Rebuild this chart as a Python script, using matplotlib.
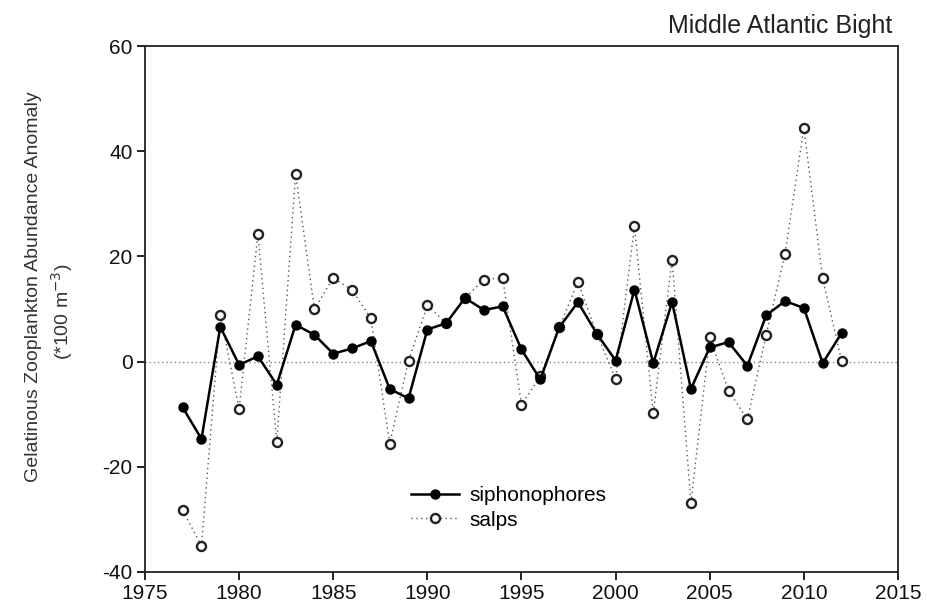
import matplotlib
matplotlib.use("Agg")
import matplotlib.pyplot as plt

plt.rcParams['font.family'] = ['Liberation Sans', 'DejaVu Sans']
plt.rcParams['axes.unicode_minus'] = False

# anios y anomalias
anios = list(range(1977, 2013))
sifonoforos = [-8.7, -14.7, 6.6, -0.6, 1.0, -4.4, 7.0, 5.1, 1.5, 2.5,
               3.9, -5.2, -7.0, 6.1, 7.3, 12.1, 9.8, 10.5, 2.3, -3.4,
               6.5, 11.3, 5.3, 0.2, 13.7, -0.3, 11.3, -5.2, 2.7, 3.7,
               -0.8, 8.8, 11.5, 10.2, -0.3, 5.4]
salpas = [-28.3, -35.0, 8.9, -9.0, 24.3, -15.3, 35.7, 10.0, 15.9, 13.6,
          8.2, -15.6, 0.2, 10.7, 7.3, 12.1, 15.6, 15.9, -8.2, -2.8,
          6.5, 15.1, 5.3, -3.3, 25.7, -9.8, 19.4, -26.9, 4.6, -5.5,
          -11.0, 5.1, 20.5, 44.4, 15.8, 0.2]

xticks = [1975, 1980, 1985, 1990, 1995, 2000, 2005, 2010, 2015]
yticks = [-40, -20, 0, 20, 40, 60]

fig = plt.figure(figsize=(9.27, 6.12), dpi=100)
ax = fig.add_axes([0.1564, 0.0654, 0.8123, 0.8594])

# linea del cero
ax.axhline(0, color='#888888', linestyle=(0, (1, 2)), linewidth=1.0, zorder=1)

ax.plot(anios, salpas, linestyle=(0, (1, 2.5)), color='#555555', linewidth=1.0,
        marker='o', markersize=6.5, markerfacecolor='white',
        markeredgecolor='#222222', markeredgewidth=1.7, label='salps', zorder=2)
ax.plot(anios, sifonoforos, '-', color='black', linewidth=1.8,
        marker='o', markersize=6.5, markerfacecolor='black',
        markeredgecolor='black', label='siphonophores', zorder=3)

ax.set_xlim(1975, 2015)
ax.set_ylim(-40, 60)
ax.set_xticks(xticks)
ax.set_yticks(yticks)
ax.tick_params(axis='both', direction='out', length=6, width=1.3,
               labelsize=15, colors='#111111', pad=3)
for lado in ['left', 'bottom', 'top', 'right']:
    ax.spines[lado].set_linewidth(1.3)
    ax.spines[lado].set_color('#222222')

# etiqueta del eje y en dos textos, como en el original
fig.text(0.0356, 0.531, 'Gelatinous Zooplankton Abundance Anomaly',
         rotation=90, ha='center', va='center', fontsize=14, color='#333333')
fig.text(0.0669, 0.490, '(*100 m$^{-3}$)',
         rotation=90, ha='center', va='center', fontsize=14, color='#333333')

ax.text(0.992, 1.015, 'Middle Atlantic Bight', transform=ax.transAxes,
        ha='right', va='bottom', fontsize=18, color='#222222')

handles, labels = ax.get_legend_handles_labels()
ax.legend(handles[::-1], labels[::-1], loc='lower left',
          bbox_to_anchor=(0.329, 0.045), frameon=False, fontsize=15,
          handlelength=2.3, handletextpad=0.5, labelspacing=0.25)

fig.savefig('out.png', dpi=100)
